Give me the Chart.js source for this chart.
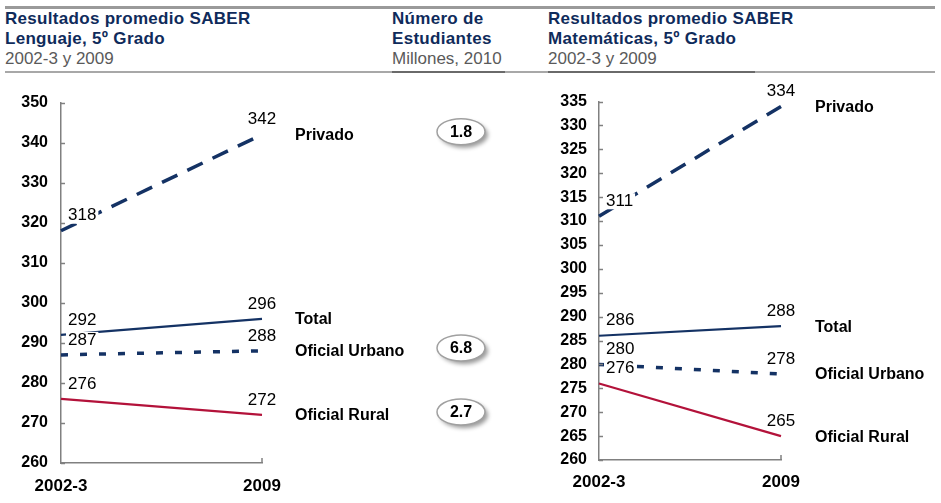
<!DOCTYPE html>
<html>
<head>
<meta charset="utf-8">
<script src="https://cdn.jsdelivr.net/npm/chart.js@4"></script>
<style>
  html, body { margin:0; padding:0; background:#fff; }
  body { width:941px; height:503px; position:relative; overflow:hidden; font-family:"Liberation Sans", Arial, sans-serif; }
  .rule { position:absolute; height:0; border-top:3px solid #9a9a9a; }
  .rule2 { position:absolute; height:0; border-top:2px solid #a8a8a8; }
  .rule3 { position:absolute; height:0; border-top:2px solid #6a6a6a; }
  .hdr { position:absolute; line-height:20px; white-space:nowrap; }
  .hdr b { display:block; font-size:17px; font-weight:bold; color:#0f2b5b; letter-spacing:0.3px; }
  .hdr span { display:block; font-size:17px; color:#5a5a5a; }
  canvas { position:absolute; }
</style>
</head>
<body>
<div class="rule" style="left:5px; top:6px; width:930px;"></div>

<div class="hdr" style="left:5px; top:9px;"><b>Resultados promedio SABER</b><b>Lenguaje, 5º Grado</b><span>2002-3 y 2009</span></div>
<div class="hdr" style="left:392px; top:9px;"><b>Número de</b><b>Estudiantes</b><span>Millones, 2010</span></div>
<div class="hdr" style="left:548px; top:9px;"><b>Resultados promedio SABER</b><b>Matemáticas, 5º Grado</b><span>2002-3 y 2009</span></div>

<div class="rule2" style="left:5px; top:71px; width:930px;"></div>
<div class="rule3" style="left:392px; top:71px; width:113px;"></div>
<div class="rule3" style="left:548px; top:71px; width:207px;"></div>

<canvas id="c1" width="540" height="423" style="left:0; top:80px;"></canvas>
<canvas id="c2" width="401" height="423" style="left:540px; top:80px;"></canvas>

<script>
// ---- data ----
const categories = ['2002-3', '2009'];
const seriesNames = ['Privado', 'Total', 'Oficial Urbano', 'Oficial Rural'];

const lenguajePrivado = [318, 342];
const lenguajeTotal   = [292, 296];
const lenguajeUrbano  = [287, 288];
const lenguajeRural   = [276, 272];

const matematicasPrivado = [311, 334];
const matematicasTotal   = [286, 288];
const matematicasUrbano  = [280, 278];
const matematicasRural   = [276, 265];

const estudiantesMillones = [1.8, null, 6.8, 2.7];

const lenguajeAxis = { min: 260, max: 350, step: 10 };
const matematicasAxis = { min: 260, max: 335, step: 5 };

// ---- styles ----
const NAVY = '#143264';
const RED = '#b3123a';
const FONT = '"Liberation Sans", Arial, sans-serif';
const seriesStyles = [
  { color: NAVY, width: 3.5, dash: [17, 11] },
  { color: NAVY, width: 2.2, dash: [] },
  { color: NAVY, width: 3.5, dash: [7, 12] },
  { color: RED,  width: 2.2, dash: [] }
];

const decor = {
  id: 'decor',
  afterDatasetsDraw(chart, args, opts) {
    const ctx = chart.ctx;
    const ca = chart.chartArea;
    const ys = chart.scales.y, xs = chart.scales.x;
    ctx.save();
    // inward ticks
    ctx.strokeStyle = '#808080';
    ctx.lineWidth = 1.5;
    ys.ticks.forEach(t => {
      const y = Math.round(ys.getPixelForValue(t.value)) + 0.5;
      ctx.beginPath(); ctx.moveTo(ca.left, y); ctx.lineTo(ca.left + 4, y); ctx.stroke();
    });
    const xr = xs.getPixelForValue(categories.length - 1);
    ctx.beginPath(); ctx.moveTo(xr, ca.bottom); ctx.lineTo(xr, ca.bottom - 5); ctx.stroke();

    // data labels (white backing, then text)
    ctx.font = '17px ' + FONT;
    ctx.textBaseline = 'middle';
    const labels = [];
    chart.data.datasets.forEach((ds, i) => {
      const meta = chart.getDatasetMeta(i);
      meta.data.forEach((p, j) => {
        const txt = String(ds.data[j]);
        const w = ctx.measureText(txt).width;
        const left = j === 0;
        const x = left ? p.x + 7 : p.x;
        const y = p.y - 15;
        const x0 = left ? x : x - w / 2;
        labels.push({ txt, x, y, x0, w, align: left ? 'left' : 'center' });
      });
    });
    ctx.fillStyle = '#fff';
    labels.forEach(l => ctx.fillRect(l.x0 - 2, l.y - 8, l.w + 4, 16));
    ctx.fillStyle = '#000';
    labels.forEach(l => { ctx.textAlign = l.align; ctx.fillText(l.txt, l.x, l.y); });

    // series names
    ctx.font = 'bold 16px ' + FONT;
    ctx.textAlign = 'left';
    chart.data.datasets.forEach((ds, i) => {
      const meta = chart.getDatasetMeta(i);
      const p = meta.data[meta.data.length - 1];
      ctx.fillText(ds.label, ca.right + opts.nameGap, p.y + 1);
    });

    // student count ovals
    if (opts.counts) {
      chart.data.datasets.forEach((ds, i) => {
        const v = opts.counts[i];
        if (v == null) return;
        const meta = chart.getDatasetMeta(i);
        const p = meta.data[meta.data.length - 1];
        const cx = ca.right + opts.ovalGap, cy = p.y - 3;
        ctx.save();
        ctx.shadowColor = 'rgba(0,0,0,0.4)';
        ctx.shadowOffsetX = 3; ctx.shadowOffsetY = 3; ctx.shadowBlur = 4;
        ctx.beginPath(); ctx.ellipse(cx, cy, 24, 13, 0, 0, Math.PI * 2);
        ctx.fillStyle = '#fff'; ctx.fill();
        ctx.restore();
        ctx.beginPath(); ctx.ellipse(cx, cy, 24, 13, 0, 0, Math.PI * 2);
        ctx.strokeStyle = '#a0a0a0'; ctx.lineWidth = 1.5; ctx.stroke();
        ctx.fillStyle = '#000';
        ctx.font = 'bold 16px ' + FONT;
        ctx.textAlign = 'center';
        ctx.fillText(v.toFixed(1), cx, cy + 1);
      });
    }
    ctx.restore();
  }
};

function makeChart(id, seriesData, axis, layout, counts) {
  return new Chart(document.getElementById(id), {
    type: 'line',
    data: {
      labels: categories,
      datasets: seriesData.map((d, i) => ({
        label: seriesNames[i],
        data: d,
        borderColor: seriesStyles[i].color,
        borderWidth: seriesStyles[i].width,
        borderDash: seriesStyles[i].dash,
        borderCapStyle: 'butt',
        pointRadius: 0,
        fill: false,
        tension: 0,
        clip: false
      }))
    },
    options: {
      responsive: false,
      animation: false,
      devicePixelRatio: 1,
      layout: { padding: layout.padding },
      plugins: {
        legend: { display: false },
        tooltip: { enabled: false },
        decor: { nameGap: layout.nameGap, ovalGap: layout.ovalGap, counts: counts }
      },
      scales: {
        x: {
          type: 'category',
          offset: false,
          grid: { display: false, drawTicks: false },
          border: { color: '#808080', width: 1.5 },
          ticks: { color: '#000', font: { family: FONT, size: 17, weight: 'bold' }, padding: layout.xPad, maxRotation: 0, autoSkip: false },
          afterFit: s => { s.height = layout.xHeight; }
        },
        y: {
          min: axis.min, max: axis.max,
          grid: { display: false, drawTicks: false },
          border: { color: '#808080', width: 1.5 },
          ticks: { stepSize: axis.step, autoSkip: false, color: '#000', font: { family: FONT, size: 16, weight: 'bold' }, padding: layout.yPad },
          afterFit: s => { s.width = layout.yWidth; }
        }
      }
    },
    plugins: [decor]
  });
}

makeChart('c1',
  [lenguajePrivado, lenguajeTotal, lenguajeUrbano, lenguajeRural],
  lenguajeAxis,
  { padding: { top: 17, right: 278, bottom: 0, left: 0 }, yWidth: 61, xHeight: 40, xPad: 13, yPad: 13, nameGap: 33, ovalGap: 199 },
  estudiantesMillones);

makeChart('c2',
  [matematicasPrivado, matematicasTotal, matematicasUrbano, matematicasRural],
  matematicasAxis,
  { padding: { top: 21, right: 160, bottom: 0, left: 0 }, yWidth: 59, xHeight: 43, xPad: 12, yPad: 12, nameGap: 34, ovalGap: 0 },
  null);
</script>
</body>
</html>
